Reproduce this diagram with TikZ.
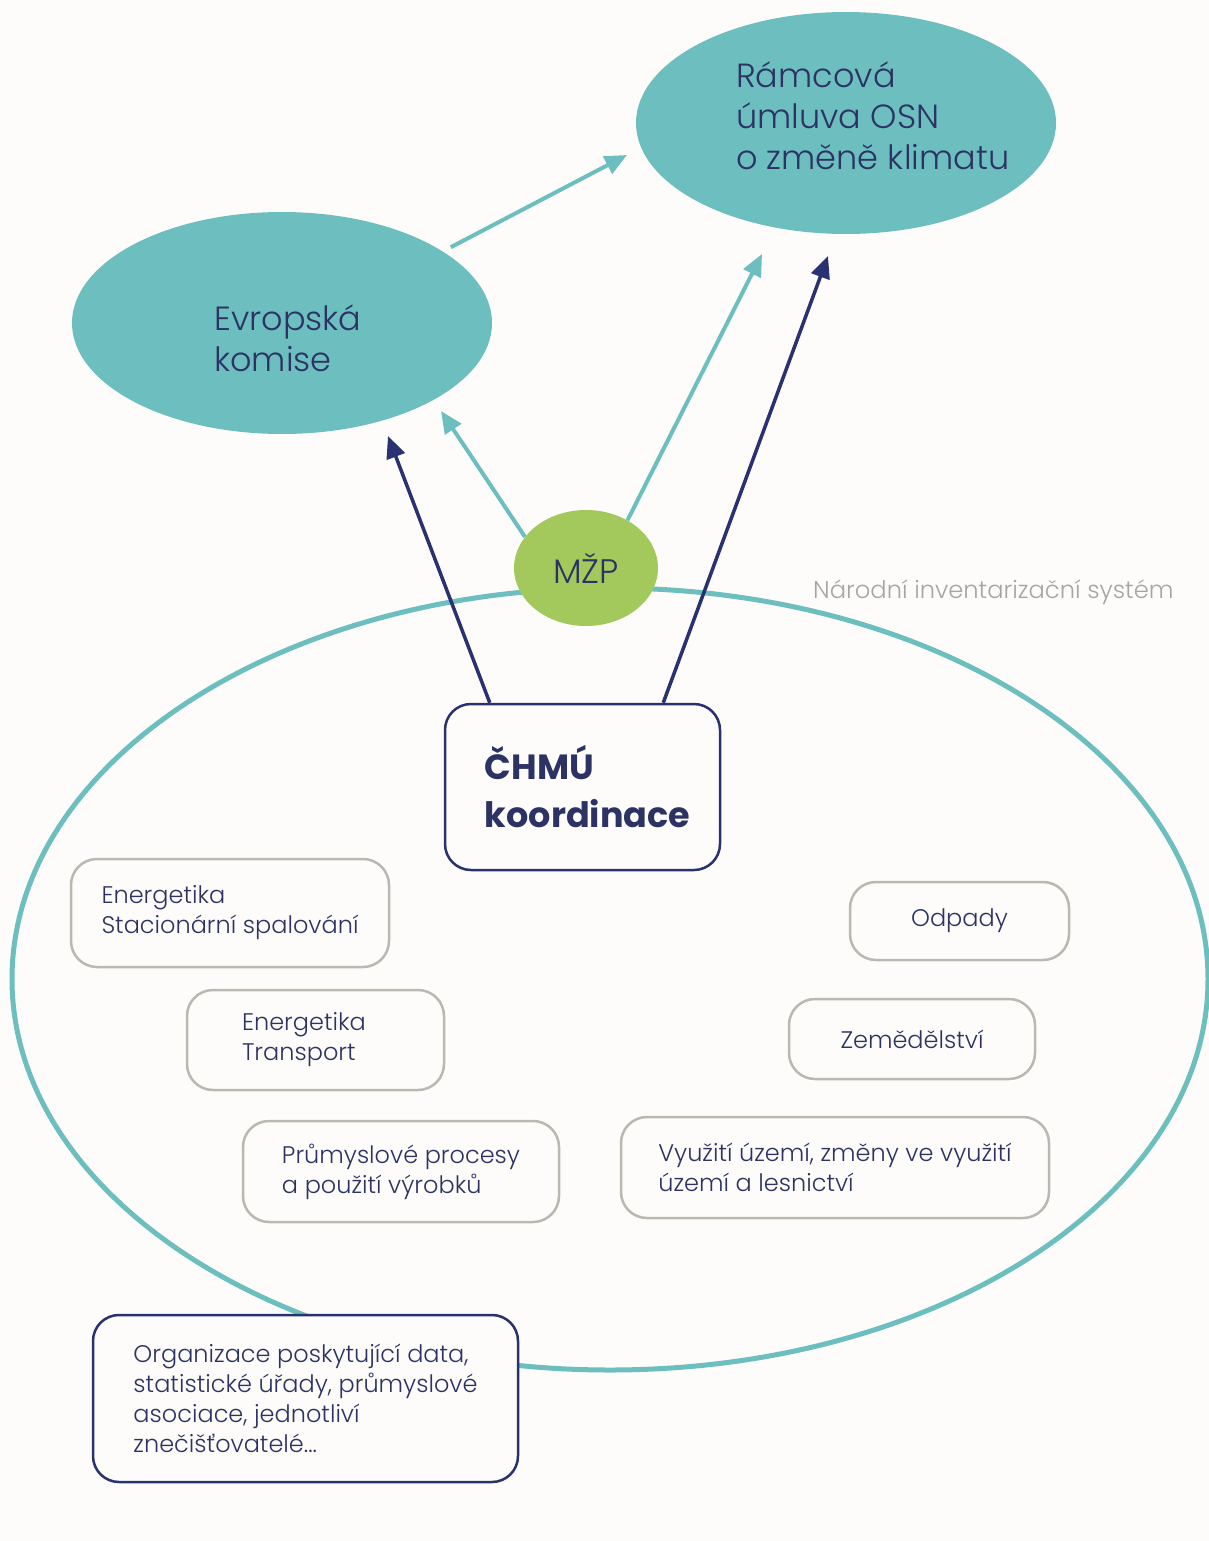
\documentclass[tikz,border=0pt]{standalone}
\usepackage{fontspec}
\setmainfont{Poppins}[UprightFont=* Light,BoldFont=* Bold]
\usetikzlibrary{shapes.geometric,arrows.meta,calc}
\definecolor{teal1}{HTML}{6DBEBF}
\definecolor{navy}{HTML}{2A3170}
\definecolor{txt}{HTML}{2C3364}
\definecolor{green1}{HTML}{A3C85B}
\definecolor{gbord}{HTML}{BCB8B1}
\definecolor{lab}{HTML}{A5A5A5}
\definecolor{bg}{HTML}{FDFCFA}
\begin{document}
\begin{tikzpicture}[x=1pt,y=-1pt,
  tarrow/.style={draw=teal1,line width=4pt,-{Triangle[length=22pt,width=19pt]}},
  narrow/.style={draw=navy,line width=3.5pt,-{Triangle[length=22pt,width=19pt]}},
  bigtxt/.style={font=\fontsize{33.5}{41}\selectfont,text=txt,align=left,inner sep=0pt},
  blob/.style={ellipse,fill=teal1,minimum width=420pt,minimum height=222pt,inner sep=0pt},
  sector/.style={draw=gbord,line width=2.5pt,rounded corners=26pt,fill=bg,align=left,text=txt,font=\fontsize{24}{30}\selectfont,inner sep=0pt},
  navybox/.style={draw=navy,line width=2.5pt,rounded corners=26pt,fill=bg,align=left,text=txt,inner sep=0pt},
]
\fill[bg] (0,0) rectangle (1209,1541);
\useasboundingbox (0,0) rectangle (1209,1541);

% national inventory system
\node[ellipse,draw=teal1,line width=5pt,minimum width=1196pt,minimum height=782pt,inner sep=0pt] (nis) at (610,979) {};
\node[anchor=west,inner sep=0pt,text=lab,font=\fontsize{24.2}{28}\selectfont] (nisL) at (813,592) {Národní inventarizační systém};

% top bodies
\node[blob] (unfccc) at (846,123) {};
\node[blob] (ec) at (282,323) {};
\node[bigtxt,anchor=west] (unfcccT) at (736,116) {Rámcová\\úmluva OSN\\o změně klimatu};
\node[bigtxt,anchor=west] (ecT) at (214,338) {Evropská\\komise};

% MZP
\node[ellipse,fill=green1,minimum width=144pt,minimum height=116pt,inner sep=0pt,text=txt,font=\fontsize{34}{38}\selectfont] (mzp) at (586,568) {MŽP};

% CHMU
\node[navybox,minimum width=275pt,minimum height=166pt,font=\bfseries\fontsize{35}{48}\selectfont] (chmu) at (582.5,787) {\hspace*{10pt}ČHMÚ\\\hspace*{10pt}koordinace};

% sectors
\node[sector,minimum width=318pt,minimum height=108pt] (s1) at (230,913) {Energetika\\Stacionární spalování};
\node[sector,minimum width=257pt,minimum height=100pt,text width=147pt] (s2) at (315.5,1040) {Energetika\\Transport};
\node[sector,minimum width=316pt,minimum height=101pt] (s3) at (401,1171.5) {Průmyslové procesy\\a použití výrobků};
\node[sector,minimum width=219pt,minimum height=78pt] (s4) at (959.5,921) {Odpady};
\node[sector,minimum width=246pt,minimum height=80pt] (s5) at (912,1039) {Zemědělství};
\node[sector,minimum width=428pt,minimum height=101pt] (s6) at (835,1167.5) {Využití území, změny ve využití\\území a lesnictví};

% data providers
\node[navybox,minimum width=425pt,minimum height=167pt,font=\fontsize{24}{30}\selectfont] (org) at (305.5,1398.5) {Organizace poskytující data,\\statistické úřady, průmyslové\\asociace, jednotliví\\znečišťovatelé...};

% arrow tips
\coordinate (t1) at (627,155);
\coordinate (t2) at (441,411);
\coordinate (t3) at (762,254);
\coordinate (t4) at (388,436);
\coordinate (t5) at (828,256);

\draw[tarrow,shorten <=9pt] (ec.24) -- (t1);
\draw[tarrow] (mzp.153) -- (t2);
\draw[tarrow] (mzp.49) -- (t3);
\draw[narrow] ([xshift=46pt]chmu.north west) -- (t4);
\draw[narrow] ([xshift=-58pt]chmu.north east) -- (t5);
\end{tikzpicture}
\end{document}
